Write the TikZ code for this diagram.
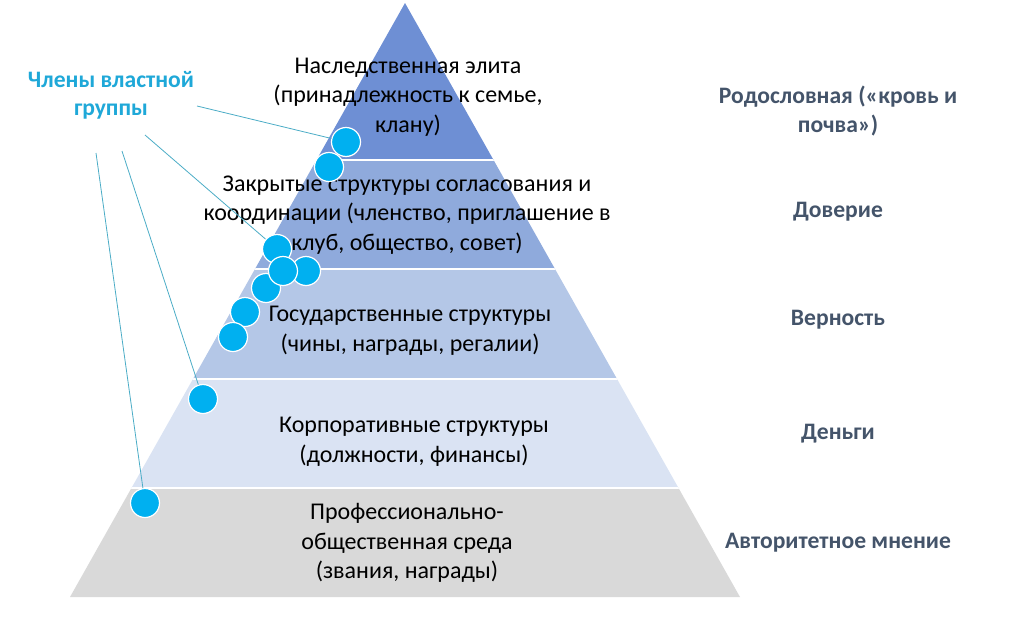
\documentclass[tikz,border=0pt]{standalone}
\usepackage{fontspec}
\setmainfont{Carlito}
\definecolor{lay1}{HTML}{6E8FD4}
\definecolor{lay2}{HTML}{8FAADC}
\definecolor{lay3}{HTML}{B4C7E7}
\definecolor{lay4}{HTML}{DAE3F3}
\definecolor{lay5}{HTML}{D9D9D9}
\definecolor{dot}{HTML}{00B0F0}
\definecolor{linkc}{HTML}{4BACC6}
\definecolor{grouptxt}{HTML}{1FA8D8}
\definecolor{righttxt}{HTML}{44546A}
\tikzset{
  x=1pt, y=-1pt,
  member/.style={circle, draw=white, line width=1.2pt, fill=dot, minimum size=29pt, inner sep=0pt},
  link/.style={draw=linkc, line width=0.8pt},
  layertxt/.style={align=center, font=\fontsize{24}{29.5}\selectfont, text=black},
  valuetxt/.style={align=center, font=\fontsize{23.6}{29}\selectfont\bfseries, text=righttxt},
  grouplbl/.style={align=center, font=\fontsize{23.6}{28}\selectfont\bfseries, text=grouptxt}
}
\begin{document}
\begin{tikzpicture}
\useasboundingbox (0,0) rectangle (1014,637);
% pyramid
\begin{scope}
  \clip (405,3) -- (740,597) -- (70,597) -- cycle;
  \fill[lay1] (0,0) rectangle (1014,160);
  \fill[lay2] (0,160) rectangle (1014,269);
  \fill[lay3] (0,269) rectangle (1014,379);
  \fill[lay4] (0,379) rectangle (1014,488);
  \fill[lay5] (0,488) rectangle (1014,600);
  \foreach \yy in {160,269,379,488} \draw[white, line width=2.6pt] (0,\yy) -- (1014,\yy);
\end{scope}
% layer texts
\node[layertxt] (t1) at (408,97) {Наследственная элита\\(принадлежность к семье,\\клану)};
\node[layertxt] (t2) at (407,215) {Закрытые структуры согласования и\\координации (членство, приглашение в\\клуб, общество, совет)};
\node[layertxt] (t3) at (410,331) {Государственные структуры\\(чины, награды, регалии)};
\node[layertxt] (t4) at (414,442) {Корпоративные структуры\\(должности, финансы)};
\node[layertxt] (t5) at (407,543) {Профессионально-\\общественная среда\\(звания, награды)};
% right values
\node[valuetxt] (v1) at (838,111) {Родословная («кровь и\\почва»)};
\node[valuetxt] (v2) at (838,212) {Доверие};
\node[valuetxt] (v3) at (838,320) {Верность};
\node[valuetxt] (v4) at (838,434) {Деньги};
\node[valuetxt] (v5) at (838,543) {Авторитетное мнение};
% group label
\node[grouplbl] (grp) at (111,95) {Члены властной\\группы};
\coordinate (s1) at (197,106);
\coordinate (s2) at (145,135);
\coordinate (s3) at (96,153);
\coordinate (s4) at (122,151);
% members
\node[member] (m1) at (346,142) {};
\node[member] (m2) at (329,167) {};
\node[member] (m3) at (277,249) {};
\node[member] (m5) at (306,271) {};
\node[member] (m6) at (266,288) {};
\node[member] (m4) at (283,271) {};
\node[member] (m7) at (245,312) {};
\node[member] (m8) at (233,337) {};
\node[member] (m9) at (203,399) {};
\node[member] (m10) at (145,503) {};
% links
\draw[link] (s1) -- (m1);
\draw[link] (s2) -- (m3);
\draw[link] (s3) -- (m10);
\draw[link] (s4) -- (m9);
\end{tikzpicture}
\end{document}
